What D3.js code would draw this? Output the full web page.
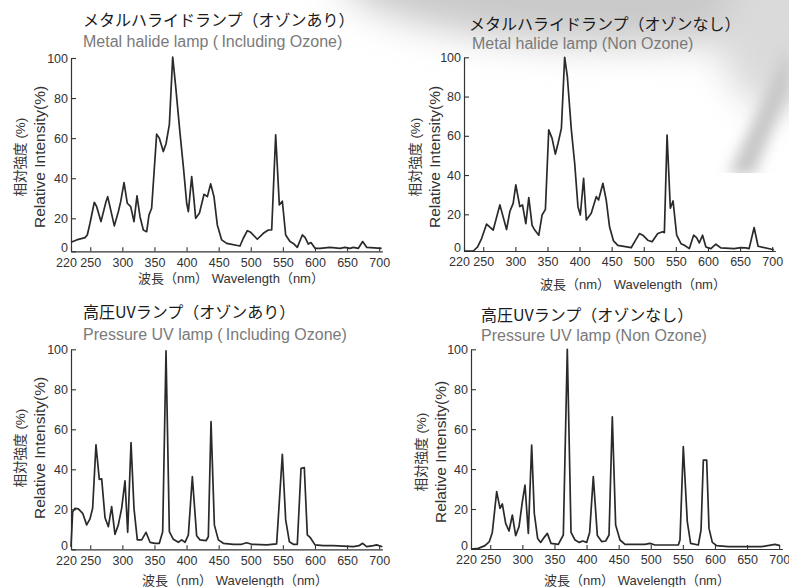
<!DOCTYPE html>
<html>
<head>
<meta charset="utf-8">
<script src="https://cdn.jsdelivr.net/npm/d3@7"></script>
<style>
body { margin: 0; background: #fff; }
svg text { font-family: "Liberation Sans", "Noto Sans CJK JP", sans-serif; }
</style>
</head>
<body>
<svg id="chart" width="789" height="587"></svg>
<script>
// axis ticks
const xTicks = [220, 250, 300, 350, 400, 450, 500, 550, 600, 650, 700];
const yTicks = [0, 20, 40, 60, 80, 100];

// titles
const titlesJa = ["メタルハライドランプ（オゾンあり）", "メタルハライドランプ（オゾンなし）", "高圧UVランプ（オゾンあり）", "高圧UVランプ（オゾンなし）"];
const titlesEn = ["Metal halide lamp (\u2009Including Ozone)", "Metal halide lamp (Non Ozone)", "Pressure UV lamp (\u2009Including Ozone)", "Pressure UV lamp (Non Ozone)"];
const yLabelJa = "相対強度 (%)";
const yLabelEn = "Relative Intensity(%)";
const xLabel = "波長（nm） Wavelength（nm）";

// spectra: [wavelength nm, relative intensity %]
const metalOzone = [[220,5.5],[228.8,6.9],[241.8,8.3],[245.4,9.9],[249.6,17],[256.3,28],[260,25.8],[266.7,18],[274.5,28.3],[277.1,30.8],[280.7,25.8],[287.5,15.4],[293.7,23.3],[297.4,28.3],[302.6,37.8],[307.7,27.5],[313,25.8],[318.1,18],[322.8,31.2],[327.5,20.8],[332.7,12.9],[337.9,11.9],[341.5,21.7],[345.6,25],[353.4,62],[357.6,60],[363.8,53.3],[368,57.2],[373.2,66.7],[378.4,100.5],[383,86],[389.8,62.5],[395,45.8],[400.2,27.5],[402.8,23.3],[408,40.8],[411.6,29.2],[414.2,20],[420,22.5],[427.2,32],[432.4,30.8],[437.5,37.2],[442.7,30.8],[447.9,16],[454.7,6.9],[462.5,4.8],[483.2,3.2],[488.4,7.9],[494.7,12.5],[499.9,11.5],[510.2,7.3],[519.6,10.9],[527.4,12.9],[532.6,12.9],[538.8,61.7],[544.5,26.7],[549.2,28.5],[554.4,9.9],[561.1,5.9],[566.3,4.8],[572.5,2.4],[580.3,9.9],[584.5,8.5],[589.7,4.4],[593.8,5.3],[600.1,1.8],[607.9,1.8],[623.4,2.4],[639,1.8],[646.8,2.4],[654.6,1.8],[659.8,2.4],[667.6,1.8],[674.3,5.9],[680.5,2.4],[703.9,1.8]];

const metalNoOzone = [[220,0],[234.5,0],[241.2,2.2],[247.4,6.8],[255.2,14.7],[265.5,11.4],[275.9,24.8],[286.3,11.7],[291.4,21.4],[296.6,25.6],[300.7,35],[307,23.9],[311.1,24.8],[316.3,14.9],[320.9,28.5],[326.1,14],[330.2,11.4],[336.5,8.6],[341.6,19.6],[346.8,22.5],[352,63],[357.2,58.7],[362.3,50.7],[366.5,56.2],[371.7,63.8],[376.8,100],[381,90.1],[387.2,63],[392.4,46],[397.5,23.9],[401.2,19.6],[406.3,38.3],[410.5,16.9],[418.2,20.5],[426,29],[429.6,27.3],[436.4,35.8],[441.5,27.3],[446.7,13.2],[452.9,5.5],[459.6,3.1],[480.4,1.8],[486.6,5.5],[493.3,9.5],[498.5,8.6],[506.2,5.9],[513,5],[521.8,9.5],[529.5,10.5],[532.1,10],[536.3,60.4],[541.4,23.1],[545.6,26.8],[551.3,8.6],[558,4],[563.2,3.1],[571,1.3],[577.7,8.6],[582.3,7.3],[586.5,4.4],[591.6,8.6],[596.8,2.2],[604.6,1.3],[612.3,3.7],[620.1,1.7],[640.8,1.3],[651.2,1.8],[658.9,1.7],[664.1,1.3],[671.9,12.8],[678.1,2.6],[702.9,0.7]];

const uvOzone = [[220,1.3],[222.6,18.8],[226.2,20.5],[231.4,20.2],[238.2,18],[244.4,12.2],[249.6,15.2],[253.7,20.5],[258.9,52.2],[264.1,35],[267.8,35.2],[273,15.8],[278.2,11.3],[283.3,21.3],[288.5,7.5],[293.7,12.2],[298.9,20.5],[304.1,34.2],[308.3,8.5],[313.5,53.3],[318.1,20.5],[323.3,4.7],[330.1,4.7],[336.8,8.5],[343.1,3.5],[350.8,3],[357.6,3],[362.8,8.8],[368,99.2],[373.2,8.8],[379.4,5],[387.2,3.5],[392.4,4.7],[397.6,3.5],[402.8,7.2],[409,36.3],[415.7,6.8],[420.9,4.7],[430.3,4.3],[433.9,6.3],[438.1,63.8],[443.3,12.2],[449.5,4.7],[457.3,3],[472.9,2.5],[485.8,2.5],[493.6,3.3],[501.4,2.5],[524.8,2.2],[540.3,2.7],[549.2,47.5],[554.4,14.7],[560.1,3.8],[566.3,2.5],[572.5,2.5],[578.3,40.5],[583.4,40.8],[588.1,7.2],[592.3,6],[600.1,2.2],[613,1.8],[628.6,1.8],[659.8,1.3],[668.6,1.8],[674.3,3],[680.5,1.3],[690.9,1.8],[696.1,2.2],[705,1.3]];

const uvNoOzone = [[220,0],[231.4,0.3],[241.8,1.7],[248.6,3.7],[253.2,8.3],[260,28.7],[265.2,20.3],[268.8,22.5],[274,12.8],[279.2,9],[284.4,17],[289.6,6.7],[294.8,11.2],[300,23.7],[304.1,32],[309.3,7.8],[314.5,52],[318.6,17.8],[323.8,5.3],[328.5,3.3],[333.7,5.7],[338.9,7.8],[344.6,2.8],[356,2.3],[363.8,7],[370,100],[375.8,8.3],[382,4.5],[388.7,3.3],[393.9,4],[400.2,3.3],[404.8,8.3],[410.5,36.2],[416.8,6.7],[423.5,3.7],[429.8,4],[435,7],[440.1,66.2],[445.3,12],[452.1,4.5],[459.9,2.3],[491,2.3],[498.8,2.8],[506.6,2],[543,2],[545.5,4.5],[550.7,51.2],[556.9,13.7],[562.1,2.8],[574.1,2],[578.3,9.5],[581.9,44.5],[587.1,44.5],[590.7,10.3],[595.9,3.3],[602.7,1.7],[620.8,1.2],[672.8,1.2],[693.5,2.3],[701.3,1.7]];

const spectra = [metalOzone, metalNoOzone, uvOzone, uvNoOzone];

// panel layout (pixels)
const panels = [
  {x0: 71,  y0: 251.3, y20: 218.3, y100: 58,    tx: 83,  tjy: 19,    tey: 41.5,  tex: 83,  ylx: 20.7,  yly: 157, xlx: 231, xly: 278},
  {x0: 464, y0: 251,   y20: 214.3, y100: 57.3,  tx: 469, tjy: 22.5,  tey: 43.3,  tex: 472, ylx: 415.7, yly: 157, xlx: 633, xly: 284},
  {x0: 71,  y0: 549.3, y20: 509.3, y100: 349.3, tx: 83,  tjy: 310.7, tey: 334.3, tex: 83,  ylx: 20.7,  yly: 448, xlx: 235, xly: 580},
  {x0: 471, y0: 549,   y20: 509,   y100: 349.3, tx: 481, tjy: 314.3, tey: 335,   tex: 481, ylx: 421.7, yly: 452, xlx: 637, xly: 580}
];
const pxPerNm = 0.642;

const svg = d3.select("#chart");

// background decoration (top right)
const defs = svg.append("defs");
const blur = defs.append("filter").attr("id", "blur").attr("x", "-50%").attr("y", "-50%").attr("width", "200%").attr("height", "200%");
blur.append("feGaussianBlur").attr("stdDeviation", 18);
const blur2 = defs.append("filter").attr("id", "blur2").attr("x", "-50%").attr("y", "-50%").attr("width", "200%").attr("height", "200%");
blur2.append("feGaussianBlur").attr("stdDeviation", 7);

svg.append("ellipse").attr("cx", 630).attr("cy", -25).attr("rx", 290).attr("ry", 70)
  .attr("fill", "#c9c9c9").attr("filter", "url(#blur)");
svg.append("ellipse").attr("cx", 775).attr("cy", 35).attr("rx", 55).attr("ry", 75)
  .attr("fill", "#dadada").attr("filter", "url(#blur)");
svg.append("path").attr("d", "M789,45 L789,90 L754,175 L728,175 Z")
  .attr("fill", "#c6c6c6").attr("filter", "url(#blur2)");
svg.append("rect").attr("x", 721).attr("y", 173).attr("width", 68).attr("height", 90).attr("fill", "#fff");

panels.forEach((p, i) => {
  const g = svg.append("g");
  const x = d3.scaleLinear().domain([220, 705]).range([p.x0, p.x0 + 485 * pxPerNm]);
  const y = d3.scaleLinear().domain([0, 20, 100]).range([p.y0, p.y20, p.y100]);

  // titles
  g.append("text").attr("x", p.tx).attr("y", p.tjy).attr("dominant-baseline", "central")
    .style("font-family", "'Noto Sans CJK JP', sans-serif").attr("font-size", 16).attr("fill", "#1a1a1a")
    .text(titlesJa[i]);
  g.append("text").attr("x", p.tex).attr("y", p.tey).attr("dominant-baseline", "central")
    .attr("font-size", 16).attr("fill", "#7a7a7a")
    .text(titlesEn[i]);

  // axes
  const xAxis = d3.axisBottom(x).tickValues(xTicks).tickSize(-4).tickSizeOuter(0).tickPadding(6.5);
  const gx = g.append("g").attr("transform", `translate(0,${p.y0})`).call(xAxis);
  const yAxis = d3.axisLeft(y).tickValues(yTicks).tickSize(-5).tickSizeOuter(0).tickPadding(3);
  const gy = g.append("g").attr("transform", `translate(${p.x0},0)`).call(yAxis);

  [gx, gy].forEach(a => {
    a.attr("font-family", null).attr("font-size", null);
    a.select(".domain").attr("stroke", "#333").attr("stroke-width", 1.2);
    a.selectAll(".tick line").attr("stroke", "#333").attr("stroke-width", 1.1);
    a.selectAll(".tick text").attr("fill", "#333").attr("font-size", 12.5);
  });
  gx.selectAll(".tick text").filter(d => d === 220).attr("dx", -5);
  gy.selectAll(".tick text").filter(d => d === 0).attr("dy", "0em");

  // axis labels
  g.append("text").attr("transform", `translate(${p.ylx},${p.yly}) rotate(-90)`)
    .attr("text-anchor", "middle").attr("dominant-baseline", "central")
    .attr("font-size", 13.5).attr("fill", "#333").text(yLabelJa);
  g.append("text").attr("transform", `translate(${p.ylx + 18.6},${p.yly}) rotate(-90)`)
    .attr("text-anchor", "middle").attr("dominant-baseline", "central")
    .attr("font-size", 15.5).attr("fill", "#333").text(yLabelEn);
  g.append("text").attr("x", p.xlx).attr("y", p.xly)
    .attr("text-anchor", "middle").attr("dominant-baseline", "central")
    .attr("font-size", 13).attr("fill", "#333").text(xLabel);

  // spectrum line
  const line = d3.line().x(d => x(d[0])).y(d => y(d[1]));
  g.append("path").datum(spectra[i])
    .attr("d", line)
    .attr("fill", "none")
    .attr("stroke", "#2a2a2a")
    .attr("stroke-width", 1.7)
    .attr("stroke-linejoin", "round");
});
</script>
</body>
</html>
